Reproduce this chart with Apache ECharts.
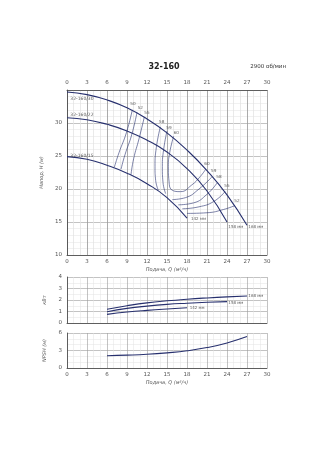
<!DOCTYPE html>
<html>
<head>
<meta charset="utf-8">
<script src="https://cdn.jsdelivr.net/npm/echarts@6/dist/echarts.min.js"></script>
<style>
  html, body { margin: 0; padding: 0; background: #fff; }
  #chart { width: 318px; height: 450px; }
</style>
</head>
<body>
<div id="chart"></div>
<script>
// head curves, Q (m3/h) vs H (m)
const head168 = [[0, 34.7], [3, 34.3], [6, 33.5], [9, 32.3], [12, 30.6], [15, 28.5], [18, 25.9], [21, 22.8], [24, 19.1], [27, 14.5]]
const head158 = [[0, 30.8], [3, 30.5], [6, 29.8], [9, 28.8], [12, 27.4], [15, 25.6], [18, 23.1], [21, 19.7], [24, 15.0]]
const head142 = [[0, 24.9], [3, 24.5], [6, 23.6], [9, 22.4], [12, 20.8], [15, 18.7], [18, 15.6]]

// efficiency lines
const eff50 = [[9.8, 32.0], [8.9, 28.5], [7.8, 25.5], [7.1, 23.3]]
const eff52 = [[10.5, 31.6], [9.7, 28.2], [8.7, 25.2], [8.1, 23.0]]
const eff55 = [[11.6, 30.9], [10.8, 27.6], [10.0, 24.6], [9.6, 22.2]]
const eff58 = [[14.0, 29.4], [13.4, 26.3], [13.2, 23.4], [13.3, 21.3], [13.7, 19.8]]
const eff59 = [[15.0, 28.8], [14.5, 26.0], [14.3, 23.4], [14.4, 21.0], [14.8, 19.3]]
const eff60 = [[16.0, 28.0], [15.4, 25.5], [15.2, 23.4], [15.3, 21.2], [15.8, 19.8], [17.0, 19.6], [18.7, 20.6], [20.0, 21.9], [20.8, 23.0]]
const eff59r = [[15.8, 18.4], [17.8, 18.7], [19.8, 20.0], [21.7, 21.8]]
const eff58r = [[16.7, 17.6], [19.0, 17.9], [21.0, 19.2], [22.5, 20.9]]
const eff55r = [[17.3, 17.0], [19.8, 17.3], [22.0, 18.1], [23.7, 19.6]]
const eff52r = [[18.0, 16.3], [21.0, 16.4], [23.5, 16.9], [25.2, 17.5]]

const effLabels = [
  [9.9, 32.9, '50'], [11.0, 32.3, '52'], [12.0, 31.5, '55'],
  [14.2, 30.1, '58'], [15.3, 29.3, '59'], [16.4, 28.5, '60'],
  [21.0, 23.8, '60'], [22.0, 22.8, '59'], [22.8, 21.8, '58'],
  [24.0, 20.4, '55'], [25.5, 18.2, '52']
]
const curveLabels = [[0.5, 33.6, '32-160/30'], [0.5, 31.2, '32-160/22'], [0.5, 25.0, '32-160/15']]
const diaLabels = [[18.6, 15.4, '142 мм'], [24.2, 14.3, '158 мм'], [27.2, 14.3, '168 мм']]

// power, kW
const power168 = [[6, 1.2], [9, 1.5], [12, 1.75], [15, 1.93], [18, 2.07], [21, 2.18], [24, 2.27], [27, 2.35]]
const power158 = [[6, 0.98], [9, 1.27], [12, 1.47], [15, 1.62], [18, 1.72], [21, 1.8], [24, 1.86]]
const power142 = [[6, 0.75], [9, 0.95], [12, 1.1], [15, 1.22], [18, 1.32]]
const powerLabels = [[27.2, 2.33, '168 мм'], [24.2, 1.72, '158 мм'], [18.4, 1.3, '142 мм']]

// NPSH, m
const npsh = [[6, 2.1], [9, 2.2], [12, 2.35], [15, 2.6], [18, 2.95], [21, 3.5], [24, 4.3], [27, 5.4]]

const xTicks = [0, 30, 3]

const lineCol = '#27306e'
const txtCol = '#555'

function xAxisBase(grid, pos, showLabel, name) {
  return {
    type: 'value', gridIndex: grid, position: pos,
    min: xTicks[0], max: xTicks[1], interval: xTicks[2],
    axisLine: { show: true, lineStyle: { color: '#444', width: 0.8 } },
    axisTick: { show: false },
    axisLabel: { show: showLabel, fontSize: 5.5, color: txtCol, margin: 4, fontFamily: 'DejaVu Sans' },
    splitLine: { show: true, lineStyle: { color: '#9a9a9a', width: 0.6 } },
    minorTick: { show: false, splitNumber: 3 },
    minorSplitLine: { show: true, lineStyle: { color: '#e2e2e2', width: 0.5 } },
    name: name || '', nameLocation: 'middle', nameGap: 12,
    nameTextStyle: { fontSize: 5, fontStyle: 'italic', color: txtCol, fontFamily: 'DejaVu Sans' }
  }
}

function yAxisBase(grid, min, max, interval, minor, name, gap) {
  return {
    type: 'value', gridIndex: grid, min: min, max: max, interval: interval,
    axisLine: { show: true, lineStyle: { color: '#444', width: 0.8 } },
    axisTick: { show: false },
    axisLabel: { fontSize: 5.5, color: txtCol, margin: 5, showMaxLabel: grid !== 0, fontFamily: 'DejaVu Sans' },
    splitLine: { show: true, lineStyle: { color: '#9a9a9a', width: 0.6 } },
    minorTick: { show: false, splitNumber: minor },
    minorSplitLine: { show: true, lineStyle: { color: '#e2e2e2', width: 0.5 } },
    name: name, nameLocation: 'middle', nameGap: gap, nameRotate: 90,
    nameTextStyle: { fontSize: 5, fontStyle: 'italic', color: txtCol, fontFamily: 'DejaVu Sans' }
  }
}

function line(data, x, y, w) {
  return {
    type: 'line', data: data, xAxisIndex: x, yAxisIndex: y, smooth: true,
    symbol: 'none', lineStyle: { color: lineCol, width: w || 1.1 }, silent: true, z: 3
  }
}

function effLine(data) {
  return line(data, 0, 0, 0.6)
}

function textSeries(data, x, y, size, align) {
  return {
    type: 'scatter', xAxisIndex: x, yAxisIndex: y, symbolSize: 0, silent: true, z: 5,
    data: data.map(d => ({ value: [d[0], d[1]], name: d[2] })),
    label: {
      show: true, position: 'inside', formatter: p => p.name, align: align || 'left',
      fontSize: size, color: '#333', fontFamily: 'DejaVu Sans'
    }
  }
}

const chart = echarts.init(document.getElementById('chart'), null, { renderer: 'canvas' })

chart.setOption({
  animation: false,
  backgroundColor: '#fff',
  title: [
    { text: '32-160', left: 159, top: 58, textAlign: 'center',
      textStyle: { fontSize: 8, fontWeight: 'bold', color: '#222', fontFamily: 'DejaVu Sans' } },
    { text: '2900 об/мин', left: 281, top: 59, textAlign: 'right',
      textStyle: { fontSize: 5.5, fontWeight: 'normal', color: '#333', fontFamily: 'DejaVu Sans' } }
  ],
  grid: [
    { left: 67, top: 90, width: 200, height: 165 },
    { left: 67, top: 277, width: 200, height: 46 },
    { left: 67, top: 333, width: 200, height: 35 }
  ],
  xAxis: [
    xAxisBase(0, 'top', true),
    xAxisBase(0, 'bottom', true, 'Подача, Q (м³/ч)'),
    xAxisBase(1, 'bottom', false),
    xAxisBase(2, 'bottom', true, 'Подача, Q (м³/ч)')
  ],
  yAxis: [
    yAxisBase(0, 10, 35, 5, 5, 'Напор, H (м)', 10),
    yAxisBase(1, 0, 4, 1, 2, 'кВт', 11),
    yAxisBase(2, 0, 6, 3, 3, 'NPSH (м)', 9)
  ],
  series: [
    line(head168, 0, 0), line(head158, 0, 0), line(head142, 0, 0),
    effLine(eff50), effLine(eff52), effLine(eff55), effLine(eff58), effLine(eff59), effLine(eff60),
    effLine(eff59r), effLine(eff58r), effLine(eff55r), effLine(eff52r),
    textSeries(effLabels, 0, 0, 4.2, 'center'),
    textSeries(curveLabels, 0, 0, 4.5),
    textSeries(diaLabels, 0, 0, 4),
    line(power168, 2, 1), line(power158, 2, 1), line(power142, 2, 1),
    textSeries(powerLabels, 2, 1, 4),
    line(npsh, 3, 2)
  ]
})
</script>
</body>
</html>
